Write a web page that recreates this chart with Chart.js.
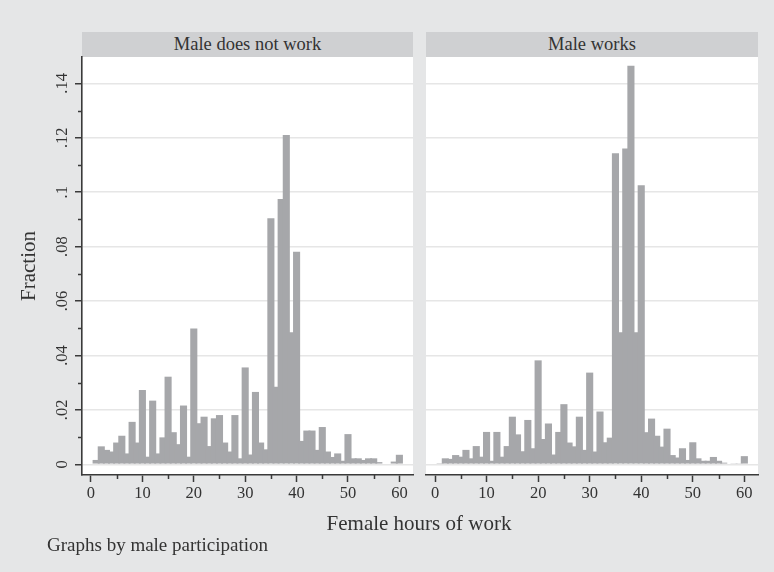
<!DOCTYPE html>
<html>
<head>
<meta charset="utf-8">
<title>Female hours of work by male participation</title>
<script src="https://cdn.jsdelivr.net/npm/chart.js@4.4.1/dist/chart.umd.min.js"></script>
<style>
  html, body { margin: 0; padding: 0; background: #e5e6e7; }
  #wrap {
    position: relative; width: 774px; height: 572px; overflow: hidden;
    background: #e5e6e7; font-family: "Liberation Serif", "Times New Roman", serif; color: #333;
  }
  .strip {
    position: absolute; top: 32px; height: 25px; line-height: 25px;
    background: #cfd0d2; font-size: 18.5px; text-align: center; color: #333;
  }
  canvas { position: absolute; top: 0; }
  #xtitle { position: absolute; left: 0; width: 838px; top: 510px; text-align: center; font-size: 21px; line-height: 26px; }
  #note { position: absolute; left: 47px; top: 533px; font-size: 19px; line-height: 24px; }
</style>
</head>
<body>
<div id="wrap">
  <div class="strip" style="left:82px;width:331px;">Male does not work</div>
  <div class="strip" style="left:426px;width:332px;">Male works</div>
  <canvas id="left" width="420" height="520" style="left:0;width:420px;height:520px;"></canvas>
  <canvas id="right" width="354" height="520" style="left:420px;width:354px;height:520px;"></canvas>
  <div id="xtitle">Female hours of work</div>
  <div id="note">Graphs by male participation</div>
</div>
<script>
// Weekly hours worked by the female partner (one bar per hour)
const hours = [
   1,  2,  3,  4,  5,  6,  7,  8,  9, 10,
  11, 12, 13, 14, 15, 16, 17, 18, 19, 20,
  21, 22, 23, 24, 25, 26, 27, 28, 29, 30,
  31, 32, 33, 34, 35, 36, 37, 38, 39, 40,
  41, 42, 43, 44, 45, 46, 47, 48, 49, 50,
  51, 52, 53, 54, 55, 56, 57, 58, 59, 60
];

// Fraction of women at each hour value, male partner not working
const fracMaleNotWork = [
  0.0016, 0.0066, 0.0053, 0.0047, 0.0080, 0.0105, 0.0040, 0.0156, 0.0080, 0.0273,
  0.0028, 0.0234, 0.0040, 0.0099, 0.0322, 0.0118, 0.0074, 0.0216, 0.0028, 0.0499,
  0.0151, 0.0175, 0.0067, 0.0169, 0.0181, 0.0080, 0.0047, 0.0181, 0.0022, 0.0356,
  0.0036, 0.0266, 0.0080, 0.0055, 0.0904, 0.0285, 0.0975, 0.1210, 0.0485, 0.0781,
  0.0086, 0.0124, 0.0124, 0.0053, 0.0137, 0.0047, 0.0027, 0.0040, 0.0013, 0.0111,
  0.0022, 0.0022, 0.0016, 0.0022, 0.0022, 0.0008, 0.0000, 0.0000, 0.0010, 0.0035
];

// Fraction of women at each hour value, male partner working
const fracMaleWorks = [
  0.0004, 0.0022, 0.0020, 0.0034, 0.0028, 0.0053, 0.0022, 0.0067, 0.0028, 0.0119,
  0.0013, 0.0119, 0.0028, 0.0067, 0.0175, 0.0110, 0.0048, 0.0163, 0.0059, 0.0382,
  0.0093, 0.0150, 0.0036, 0.0119, 0.0221, 0.0080, 0.0066, 0.0175, 0.0053, 0.0337,
  0.0047, 0.0194, 0.0081, 0.0098, 0.1143, 0.0485, 0.1161, 0.1465, 0.0485, 0.1026,
  0.0118, 0.0168, 0.0105, 0.0065, 0.0131, 0.0034, 0.0025, 0.0059, 0.0016, 0.0081,
  0.0022, 0.0013, 0.0013, 0.0027, 0.0013, 0.0006, 0.0000, 0.0002, 0.0002, 0.0030
];

// Axis ticks
const xMajorTicks = [0, 10, 20, 30, 40, 50, 60];
const xMinorTicks = [5, 15, 25, 35, 45, 55];
const yMajorTicks = [0, 0.02, 0.04, 0.06, 0.08, 0.1, 0.12, 0.14];
const yTickLabels = ['0', '.02', '.04', '.06', '.08', '.1', '.12', '.14'];
const yMinorTicks = [0.01, 0.03, 0.05, 0.07, 0.09, 0.11, 0.13];

const SERIF = '"Liberation Serif", "Times New Roman", serif';
const TEXT = '#333333';
const AXIS = '#3a3a3a';
const GRID = '#e6e6e6';
const BAR = '#a6a7aa';
const X_MIN = -1.75, X_MAX = 62.65;
const Y_MIN = -0.00393, Y_MAX = 0.14969;

// White plot region behind grid and bars
const plotBackground = {
  id: 'plotBackground',
  beforeDraw(chart) {
    const { ctx, chartArea: a } = chart;
    ctx.save();
    ctx.fillStyle = '#ffffff';
    ctx.fillRect(a.left, a.top, a.right - a.left, a.bottom - a.top);
    ctx.restore();
  }
};

// Short unlabeled ticks between the labelled ones
const minorTicks = {
  id: 'minorTicks',
  afterDraw(chart, args, opts) {
    const ctx = chart.ctx;
    const area = chart.chartArea;
    const xs = chart.scales.x, ys = chart.scales.y;
    ctx.save();
    ctx.strokeStyle = AXIS;
    ctx.lineWidth = 1.5;
    ctx.beginPath();
    xMinorTicks.forEach(v => {
      const px = Math.round(xs.getPixelForValue(v)) + 0.5;
      ctx.moveTo(px, area.bottom);
      ctx.lineTo(px, area.bottom + 4);
    });
    if (opts.yAxis) {
      yMinorTicks.forEach(v => {
        const py = Math.round(ys.getPixelForValue(v)) + 0.5;
        ctx.moveTo(area.left - 4, py);
        ctx.lineTo(area.left, py);
      });
    }
    ctx.stroke();
    ctx.restore();
  }
};

function makePanel(id, values, withYAxis, padding) {
  const yScale = {
    min: Y_MIN, max: Y_MAX,
    afterBuildTicks: s => { s.ticks = yMajorTicks.map(v => ({ value: v })); },
    afterFit: s => { s.width = withYAxis ? 82 : 0; },
    grid: {
      color: GRID, lineWidth: 1.5, drawOnChartArea: true,
      drawTicks: withYAxis, tickLength: 7, tickColor: AXIS, tickWidth: 1.5
    },
    border: { display: withYAxis, color: AXIS, width: 1.6 },
    ticks: {
      display: withYAxis, font: { family: SERIF, size: 16.5 }, color: TEXT, padding: 2,
      minRotation: 90, maxRotation: 90, crossAlign: 'center', autoSkip: false,
      callback: (v, i) => yTickLabels[i]
    },
    title: {
      display: withYAxis, text: 'Fraction', color: TEXT,
      font: { family: SERIF, size: 21 }, padding: { top: 17, bottom: 0 }
    }
  };
  return new Chart(document.getElementById(id), {
    type: 'bar',
    data: {
      datasets: [{
        data: hours.map((h, i) => ({ x: h, y: values[i] })),
        backgroundColor: BAR,
        borderWidth: 0,
        barPercentage: 1.38,
        categoryPercentage: 1
      }]
    },
    options: {
      responsive: false,
      animation: false,
      devicePixelRatio: 1,
      layout: { padding },
      plugins: {
        legend: { display: false },
        tooltip: { enabled: false },
        minorTicks: { yAxis: withYAxis }
      },
      scales: {
        x: {
          type: 'linear', min: X_MIN, max: X_MAX, offset: false,
          afterBuildTicks: s => { s.ticks = xMajorTicks.map(v => ({ value: v })); },
          afterFit: s => { s.height = 45; },
          grid: {
            drawOnChartArea: false, offset: false, tickLength: 7,
            tickColor: AXIS, tickWidth: 1.5, color: AXIS
          },
          border: { display: true, color: AXIS, width: 1.6 },
          ticks: {
            font: { family: SERIF, size: 16.5 }, color: TEXT, padding: 2,
            maxRotation: 0, autoSkip: false
          }
        },
        y: yScale
      }
    },
    plugins: [plotBackground, minorTicks]
  });
}

makePanel('left', fracMaleNotWork, true, { top: 57, right: 7, left: 0, bottom: 0 });
makePanel('right', fracMaleWorks, false, { top: 57, right: 16, left: 6, bottom: 0 });
</script>
</body>
</html>
